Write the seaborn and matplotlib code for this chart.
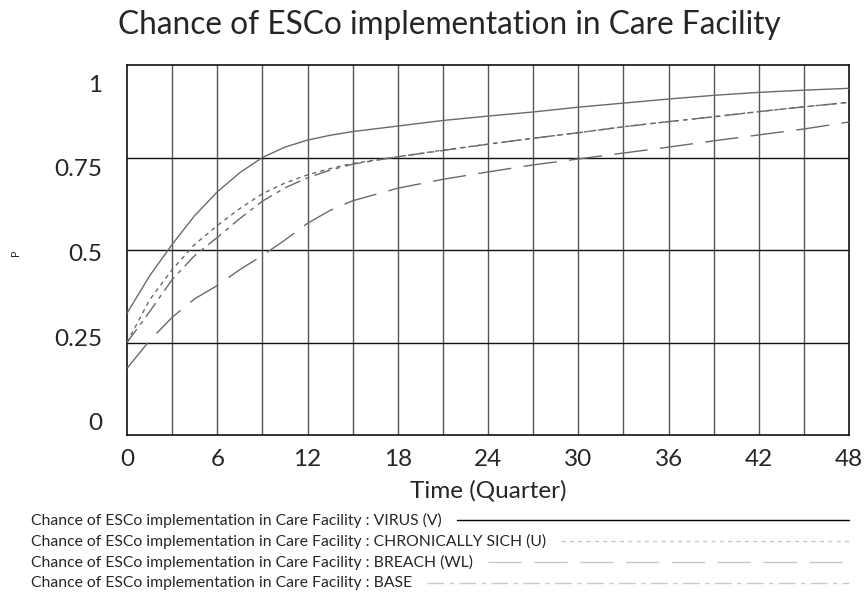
import matplotlib
matplotlib.use("Agg")
import matplotlib.pyplot as plt
from matplotlib.lines import Line2D
import pandas as pd
import seaborn as sns

# Quarters and simulated probability per scenario
quarters = [0, 1.5, 3, 4.5, 6, 7.5, 9, 10.5, 12, 13.5, 15, 18, 21, 24, 27, 30,
            33, 36, 39, 42, 45, 48]
virus = [0.329, 0.430, 0.515, 0.593, 0.657, 0.709, 0.750, 0.778, 0.797, 0.810,
         0.820, 0.835, 0.850, 0.862, 0.873, 0.886, 0.897, 0.908, 0.918, 0.926,
         0.932, 0.937]
chronically_sick = [0.25, 0.365, 0.447, 0.515, 0.566, 0.612, 0.652, 0.681, 0.703,
                    0.720, 0.734, 0.752, 0.770, 0.786, 0.802, 0.817, 0.833, 0.847,
                    0.860, 0.874, 0.887, 0.899]
base = [0.25, 0.333, 0.420, 0.485, 0.534, 0.585, 0.632, 0.668, 0.695, 0.716,
        0.732, 0.752, 0.769, 0.786, 0.802, 0.817, 0.833, 0.847, 0.860, 0.874,
        0.887, 0.899]
breach = [0.18, 0.255, 0.318, 0.368, 0.404, 0.447, 0.485, 0.527, 0.572, 0.607,
          0.633, 0.667, 0.691, 0.711, 0.730, 0.746, 0.762, 0.778, 0.795, 0.811,
          0.827, 0.846]

prefix = "Chance of ESCo implementation in Care Facility : "
names = ["VIRUS (V)", "CHRONICALLY SICH (U)", "BREACH (WL)", "BASE"]
series = [virus, chronically_sick, breach, base]

x_ticks = [0, 6, 12, 18, 24, 30, 36, 42, 48]
y_labels = ["0", "0.25", "0.5", "0.75", "1"]
y_values = [0, 0.25, 0.5, 0.75, 1]

df = pd.concat(
    [pd.DataFrame({"Time": quarters, "P": vals, "run": name})
     for name, vals in zip(names, series)],
    ignore_index=True,
)

dash_styles = {
    "VIRUS (V)": "",
    "CHRONICALLY SICH (U)": (3, 3),
    "BREACH (WL)": (24, 9),
    "BASE": (12, 4, 3, 4),
}

sns.set_style("white")
plt.rcParams["font.family"] = ["Lato", "DejaVu Sans"]

fig = plt.figure(figsize=(8.64, 5.95), dpi=100)
ax = fig.add_axes([127 / 864, 160 / 595, 722 / 864, 370 / 595])

# grid: vertical every 3 quarters, horizontal every 0.25
for t in range(3, 48, 3):
    ax.axvline(t, color="#555555", lw=1.0, zorder=1)
for v in [0.25, 0.5, 0.75]:
    ax.axhline(v, color="#111111", lw=1.0, zorder=1)

sns.lineplot(data=df, x="Time", y="P", style="run", dashes=dash_styles,
             color="#6a6a6a", linewidth=1.0, legend=False, ax=ax, zorder=3)

ax.set_xlim(0, 48)
ax.set_ylim(0, 1)
ax.set_xticks(x_ticks)
ax.set_xticklabels([str(t) for t in x_ticks], fontsize=17.5)
# value labels sit slightly inside the plotted range
ax.set_yticks([(13 + 339 * v) / 370 for v in y_values])
ax.set_yticklabels(y_labels, fontsize=17.5)
ax.tick_params(axis="both", length=0)
ax.tick_params(axis="x", pad=10)
ax.tick_params(axis="y", pad=18)
for sp in ax.spines.values():
    sp.set_color("#111111")
    sp.set_linewidth(1.2)

ax.set_xlabel("Time (Quarter)", fontsize=17.5, labelpad=7)
ax.set_ylabel("")
fig.text(15 / 864, 1 - 253 / 595, "P", rotation=90, fontsize=8,
         ha="center", va="center")
fig.text(449 / 864, 1 - 25 / 595, "Chance of ESCo implementation in Care Facility",
         fontsize=22.8, ha="center", va="center")

# legend rows below the chart
renderer = fig.canvas.get_renderer()
legend_colors = ["#000000", "#c8c8c8", "#c8c8c8", "#c8c8c8"]
rows_y = [520, 541, 562, 583]
for name, col, py in zip(names, legend_colors, rows_y):
    yy = 1 - py / 595
    txt = fig.text(31 / 864, yy, prefix + name, fontsize=11.3, ha="left", va="center")
    bb = txt.get_window_extent(renderer=renderer)
    x0 = (bb.x1 + 15) / 864
    ls = dash_styles[name]
    line = Line2D([x0, 849 / 864], [yy, yy], transform=fig.transFigure,
                  color=col, lw=1.0)
    if ls:
        line.set_dashes(ls)
    fig.add_artist(line)

fig.savefig("out.png", dpi=100)
